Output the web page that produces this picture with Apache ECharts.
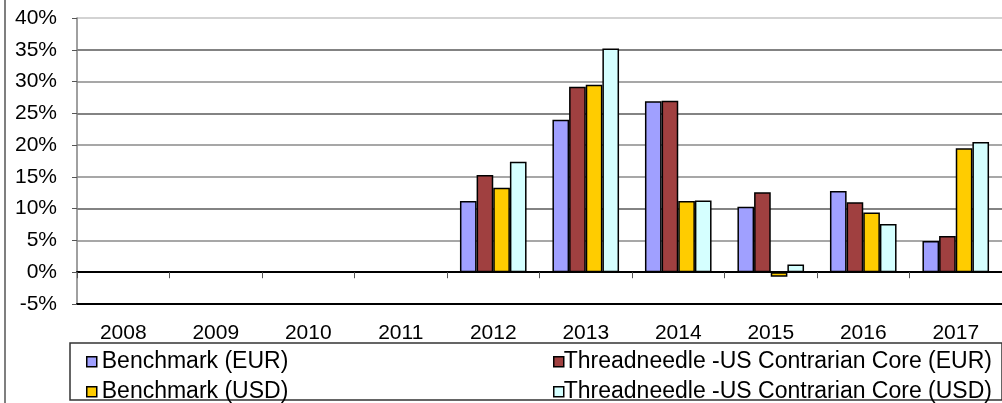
<!DOCTYPE html>
<html>
<head>
    <title>Annual performance</title>
    <style>
        body { margin: 0; padding: 0; background: #ffffff; }
        #chart { width: 1002px; height: 403px; }
    </style>
</head>
<body>
    <div id="chart"></div>
    <script src="https://cdn.jsdelivr.net/npm/echarts@6/dist/echarts.min.js"></script>
    <script>
        // categories and values (in %)
        const years = ['2008', '2009', '2010', '2011', '2012', '2013', '2014', '2015', '2016', '2017'];
        const benchmarkEur = [null, null, null, null, 11.2, 24.0, 26.9, 10.3, 12.8, 4.9];
        const fundEur = [null, null, null, null, 15.3, 29.2, 27.0, 12.6, 11.0, 5.7];
        const benchmarkUsd = [null, null, null, null, 13.3, 29.5, 11.2, -0.7, 9.4, 19.5];
        const fundUsd = [null, null, null, null, 17.4, 35.2, 11.3, 1.2, 7.6, 20.5];

        // y tick labels, split over two overlaid axes so none get auto-hidden
        const yTicksOdd = [-5, 5, 15, 25, 35];
        const yTicksEven = [0, 10, 20, 30, 40];

        const names = [
            'Benchmark (EUR)',
            'Threadneedle -US Contrarian Core (EUR)',
            'Benchmark (USD)',
            'Threadneedle -US Contrarian Core (USD)'
        ];
        const colors = ['#A0A0FF', '#A04040', '#FFCC00', '#D5FFFF'];
        const values = [benchmarkEur, fundEur, benchmarkUsd, fundUsd];

        const font = 'Arial, "Liberation Sans", sans-serif';

        const chart = echarts.init(document.getElementById('chart'));

        // one legend per entry so the 2x2 layout matches the picture
        const legendPos = [[86, 342, 0], [553, 342, -5], [86, 372, 0], [553, 372, -5]];
        const legends = names.map((n, i) => ({
            data: [n],
            left: legendPos[i][0],
            top: legendPos[i][1],
            icon: 'rect',
            itemWidth: 10,
            itemHeight: 10,
            padding: 0,
            textStyle: { fontFamily: font, fontSize: 23, color: '#000', lineHeight: 24, padding: [0, 0, 0, legendPos[i][2]] },
            itemStyle: { borderColor: '#000', borderWidth: 1.5 }
        }));

        const yLabel = (vals) => ({
            customValues: vals,
            formatter: '{value}%',
            margin: 20,
            fontFamily: font,
            fontSize: 21,
            color: '#000'
        });

        chart.setOption({
            animation: false,
            color: colors,
            grid: { left: 77, right: 0, top: 16, bottom: 99 },
            legend: legends,
            xAxis: [
                {
                    type: 'category',
                    data: years,
                    axisLine: { onZero: true, lineStyle: { color: '#000', width: 2 } },
                    axisTick: { show: true, length: 6, lineStyle: { color: '#555', width: 1 } },
                    axisLabel: { show: false },
                    splitLine: { show: false }
                },
                {
                    type: 'category',
                    data: years,
                    position: 'bottom',
                    axisLine: { onZero: false, lineStyle: { color: '#000', width: 2 } },
                    axisTick: { show: false },
                    axisLabel: { margin: 11, fontFamily: font, fontSize: 21, color: '#000' }
                }
            ],
            yAxis: [
                {
                    type: 'value',
                    min: -5,
                    max: 40,
                    interval: 5,
                    axisLine: { show: true, lineStyle: { color: '#808080', width: 1.5 } },
                    axisTick: { show: true, length: 5, lineStyle: { color: '#555', width: 1 } },
                    axisLabel: yLabel(yTicksOdd),
                    splitLine: { show: true, lineStyle: { color: ['#000', '#8a8a8a', '#8a8a8a', '#5a5a5a', '#8a8a8a', '#8a8a8a', '#5a5a5a', '#8a8a8a', '#5a5a5a', '#c4c4c4'], width: 1.6 } }
                },
                {
                    type: 'value',
                    min: -5,
                    max: 40,
                    interval: 5,
                    position: 'left',
                    axisLine: { show: false },
                    axisTick: { show: false },
                    axisLabel: yLabel(yTicksEven),
                    splitLine: { show: false }
                }
            ],
            series: values.map((v, i) => ({
                name: names[i],
                type: 'bar',
                xAxisIndex: 0,
                yAxisIndex: 0,
                data: v,
                barGap: 0,
                barCategoryGap: '28%',
                itemStyle: { color: colors[i], borderColor: '#000', borderWidth: 1.5 }
            })),
            graphic: [
                {
                    type: 'rect',
                    shape: { x: 70, y: 343, width: 932, height: 57 },
                    style: { fill: 'none', stroke: '#333', lineWidth: 1.5 },
                    silent: true
                },
                {
                    type: 'line',
                    shape: { x1: 5, y1: 0, x2: 5, y2: 403 },
                    style: { stroke: '#555', lineWidth: 1.5 },
                    silent: true
                }
            ]
        });
    </script>
</body>
</html>
